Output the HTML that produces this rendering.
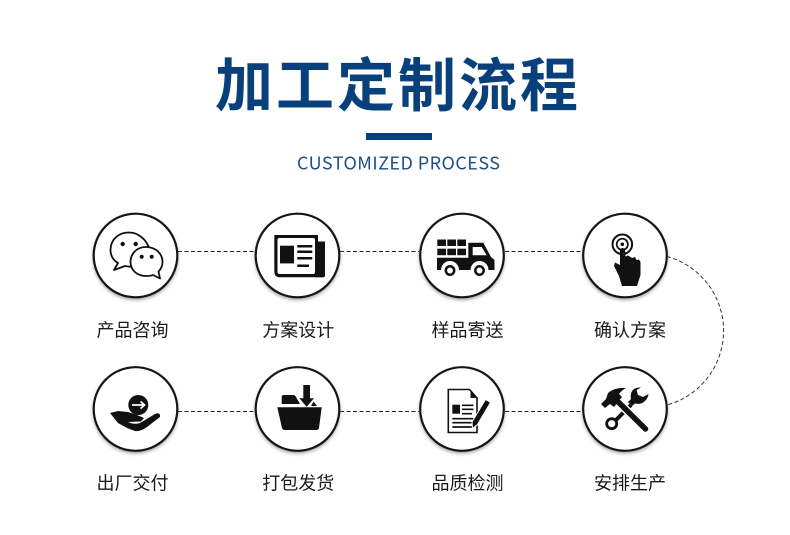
<!DOCTYPE html>
<html><head><meta charset="utf-8"><style>
html,body{margin:0;padding:0;background:#fff}
svg{display:block}
.l{font-family:"Liberation Sans","Noto Sans CJK SC",sans-serif;font-size:18px;fill:#1a1a1a;text-anchor:middle}
</style></head><body>
<svg width="790" height="535" viewBox="0 0 790 535" xmlns="http://www.w3.org/2000/svg">
<defs>
<filter id="b" x="-20%" y="-20%" width="140%" height="140%"><feGaussianBlur stdDeviation="1.8"/></filter>
</defs>
<rect width="790" height="535" fill="#fff"/>
<text x="398" y="106" text-anchor="middle" font-family="'Liberation Sans','Noto Sans CJK SC',sans-serif" font-weight="700" font-size="58" letter-spacing="3" fill="#07407b">加工定制流程</text>
<rect x="366" y="133" width="66" height="7" fill="#07407b"/>
<text x="297" y="169.5" textLength="203" lengthAdjust="spacing" font-family="'Noto Sans CJK SC','Liberation Sans',sans-serif" font-size="18" fill="#1d4f85">CUSTOMIZED PROCESS</text>

<g fill="none" stroke="#222" stroke-width="1" stroke-dasharray="4 2.5">
<path d="M178 251.500H255M340 251.500H419M505 251.500H582M178 411.500H255M340 411.500H419M505 411.500H582"/>
<path d="M667 256.500A77 77 0 0 1 667 405" stroke="#333"/>
</g>

<g fill="#888" opacity=".8" filter="url(#b)">
<circle cx="135.500" cy="257.500" r="42.500"/><circle cx="297.500" cy="257.500" r="42.500"/><circle cx="462" cy="257.500" r="42.500"/><circle cx="625" cy="257.500" r="42.500"/>
<circle cx="135.500" cy="411" r="42.500"/><circle cx="297.500" cy="411" r="42.500"/><circle cx="462" cy="411" r="42.500"/><circle cx="625" cy="411" r="42.500"/>
</g>
<g fill="#fff" stroke="#151515" stroke-width="2.200">
<circle cx="135.500" cy="255.500" r="41.800"/><circle cx="297.500" cy="255.500" r="41.800"/><circle cx="462" cy="255.500" r="41.800"/><circle cx="625" cy="255.500" r="41.800"/>
<circle cx="135.500" cy="409" r="41.800"/><circle cx="297.500" cy="409" r="41.800"/><circle cx="462" cy="409" r="41.800"/><circle cx="625" cy="409" r="41.800"/>
</g>

<!-- chat -->
<g fill="#fff" stroke="#111" stroke-width="1.800" stroke-linejoin="round">
<path d="M129 232.500C118 232.500 110.500 240 110.500 250C110.500 256 113 260 118 263L114 270L125 266C130 267 134 267 138 266L149 248C146 239 138 232.500 129 232.500Z"/>
<path d="M146 247C136.500 247 130.500 254 130.500 262C130.500 270 137 276 146 276C149 276 151 276 153 275L160 278.500L158.500 271.500C161 269 162.500 266 162.500 262C162.500 254 156 247 146 247Z"/>
</g>
<g fill="#111"><circle cx="122.700" cy="244" r="2.200"/><circle cx="135.700" cy="244" r="2.200"/><circle cx="141.700" cy="256.700" r="2"/><circle cx="151.700" cy="256.700" r="2"/></g>

<!-- newspaper -->
<path d="M318 241.500H325V275Q325 277.300 323 277.300H280Q274.300 277.300 274.300 271V235H318Z" fill="#111"/>
<rect x="277.500" y="238" width="37.500" height="36" rx="2" fill="#fff"/>
<path d="M315 241.500H325V275Q325 277.300 323 277.300H315Z" fill="#111"/>
<rect x="280" y="245.700" width="14" height="17.700" fill="#111"/>
<path d="M297.300 245H312.300V247.500H297.300ZM297.300 250.500H312.300V253H297.300ZM297.300 257H312.300V259.500H297.300ZM297.300 264.500H309V267H297.300Z" fill="#111"/>

<!-- truck -->
<g fill="#111">
<rect x="437.300" y="239.500" width="8.700" height="6.500"/><rect x="447.300" y="239.500" width="8.700" height="6.500"/><rect x="457.300" y="239.500" width="8.700" height="6.500"/>
<rect x="437.300" y="248.700" width="8.700" height="6.500"/><rect x="447.300" y="248.700" width="8.700" height="6.500"/><rect x="457.300" y="248.700" width="8.700" height="6.500"/>
<path d="M468.300 242.700H483.300L491 257L494.500 260V270H488.500A9 9 0 0 0 470.500 270H459A9 9 0 0 0 441 270H437V257.700H468.300Z"/>
</g>
<path d="M472.700 247H481.700L486.700 255.300H472.700Z" fill="#fff"/>
<g fill="#fff" stroke="#111" stroke-width="2.500"><circle cx="450" cy="270.500" r="4.200"/><circle cx="479.500" cy="270.500" r="4.200"/></g>

<!-- hand -->
<g fill="none" stroke="#111"><circle cx="622.300" cy="244.300" r="9.800" stroke-width="2"/><circle cx="622.300" cy="244.300" r="5.600" stroke-width="1.700"/></g>
<circle cx="622.300" cy="244.300" r="1.800" fill="#111"/>
<path d="M620 250Q622.500 246 625 250L625.500 256.500L628 255.500L630.500 257L632 258L635 257L636.500 260L639 259.500L640.500 262V275L637 286H622L619 276L614 266L615 262.500L620 265Z" fill="#111"/>

<!-- hand with coin -->
<circle cx="138.300" cy="405" r="10" fill="#111"/>
<path d="M132 405H144M140.500 401.500L144.500 405L140.500 408.500" fill="none" stroke="#fff" stroke-width="1.800"/>
<path d="M110 413L118 411L128 412L137 415L144 418L141 421.500L128 422Q134 425 140 423L155 414Q159 412 160 415V417L147 427Q140 432 135 431L127 428L118 423L114 418Z" fill="#111"/>

<!-- basket -->
<path d="M277.300 407.300H321.700L319 428Q318.500 430 316 430H285Q282.500 430 282 428Z" fill="#111"/>
<path d="M281.700 404V397Q281.700 395 284 395H293.500Q295 395 296 397L300 404Z" fill="#111"/>
<path d="M303.300 385H310V398.300H314L306.700 406.700L299.300 398.300H303.300Z" fill="#111"/>
<path d="M313.500 401.500L317 406H311Z" fill="#111"/>

<!-- document -->
<path d="M448.300 389.500H469.500L477 398V432.500H448.300Z" fill="#fff" stroke="#111" stroke-width="1.600"/>
<path d="M470.500 391V398H477Z" fill="#111"/>
<rect x="452.300" y="404.700" width="7.700" height="9" fill="#111"/>
<path d="M462 405.300H473.500M462 409.300H473.500M462 413.700H472M452.300 418.700H473.500M452.300 422.700H472M452.300 427H472" stroke="#111" stroke-width="1.700"/>
<path d="M485.500 399.500L490.500 402.500L477.500 424.500L472.500 428.500L472 422Z" fill="#111" stroke="#fff" stroke-width="1"/>

<!-- tools -->
<path d="M628 402L632 406L635 403.500Q641 405 645 401Q648 398 648.500 394L643 397L638 395L636.500 390L641 387.500Q635 387 632 391Q630 395 631 399Z" fill="#111"/>
<path d="M631 405L615 421" stroke="#111" stroke-width="4"/>
<path d="M618.300 402L645.500 429" stroke="#fff" stroke-width="8.500"/>
<path d="M618.300 402L645.500 429" stroke="#111" stroke-width="5.500" stroke-linecap="round"/>
<path d="M601 404L605 408L610 404L614 407L622 397L619 394Q622 390 626 388Q615 387 608 393L606 399Z" fill="#111"/>
<circle cx="611.700" cy="423.700" r="5" fill="#fff" stroke="#111" stroke-width="2.800"/>

<g>
<text class="l" x="132.500" y="336.500">产品咨询</text>
<text class="l" x="298.300" y="336.500">方案设计</text>
<text class="l" x="467.500" y="336.500">样品寄送</text>
<text class="l" x="630" y="336.500">确认方案</text>
<text class="l" x="132.500" y="489.500">出厂交付</text>
<text class="l" x="298.300" y="489.500">打包发货</text>
<text class="l" x="467.500" y="489.500">品质检测</text>
<text class="l" x="630" y="489.500">安排生产</text>
</g>
</svg>
</body></html>
